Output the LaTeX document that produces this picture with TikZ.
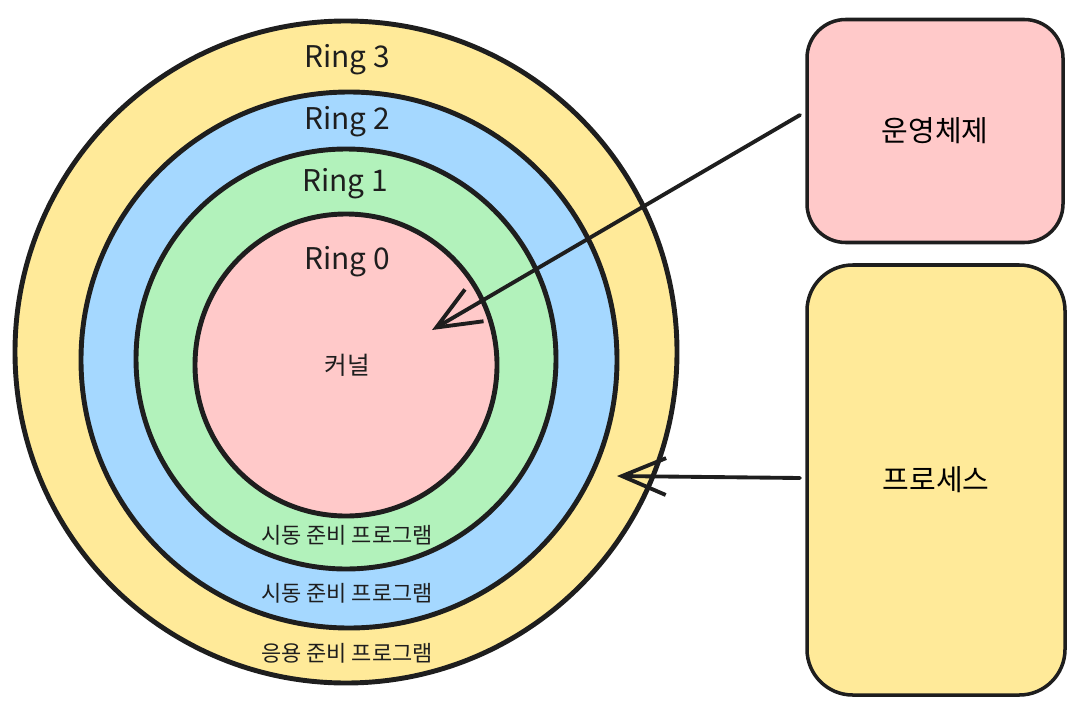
\documentclass[tikz,border=0pt]{standalone}
\usepackage{fontspec}
\setmainfont{Noto Sans CJK KR}
\usetikzlibrary{arrows.meta}
\definecolor{inkc}{HTML}{1E1E1E}
\definecolor{yellowc}{HTML}{FFEA99}
\definecolor{bluec}{HTML}{A5D8FF}
\definecolor{greenc}{HTML}{B2F2BB}
\definecolor{pinkc}{HTML}{FFC9C9}
\tikzset{
x=0.02cm,
y=-0.02cm,
ring/.style={circle, draw=inkc, line width=2.8pt, inner sep=0pt},
box/.style={draw=inkc, line width=2pt, rounded corners=22pt, inner sep=0pt, font=\fontsize{16.5}{18}\selectfont},
ringlabel/.style={text=inkc, font=\fontsize{17}{19}\selectfont},
sublabel/.style={text=inkc, font=\fontsize{12.5}{14}\selectfont},
arrow/.style={draw=inkc, line width=2.2pt, line cap=round, -{Straight Barb[length=25pt,width=21pt,line width=2.2pt]}},
}

\begin{document}
\begin{tikzpicture}
        \useasboundingbox (0,0) rectangle (1084,713);

        % rings
        \node[ring, fill=yellowc, minimum size=662*0.02cm] (ring3) at (346,352) {};
        \node[ring, fill=bluec, minimum size=536*0.02cm] (ring2) at (349,360) {};
        \node[ring, fill=greenc, minimum size=420*0.02cm] (ring1) at (346,359) {};
        \node[ring, fill=pinkc, minimum size=302*0.02cm] (ring0) at (346,365) {};

        \node[ringlabel] (l3) at (347,60) {Ring 3};
        \node[ringlabel] (l2) at (347,122) {Ring 2};
        \node[ringlabel] (l1) at (345,184) {Ring 1};
        \node[ringlabel] (l0) at (347,262) {Ring 0};
        \node[text=inkc, font=\fontsize{14}{16}\selectfont] (kernel) at (347,365) {커널};

        \node[sublabel] (s1) at (347,535) {시동 준비 프로그램};
        \node[sublabel] (s2) at (347,593) {시동 준비 프로그램};
        \node[sublabel] (s3) at (347,653) {응용 준비 프로그램};

        % boxes
        \node[box, fill=pinkc, minimum width=256*0.02cm, minimum height=223*0.02cm] (os) at (935,131) {운영체제};
        \node[box, fill=yellowc, minimum width=258*0.02cm, minimum height=430*0.02cm, rounded corners=26pt] (proc) at (936,480) {프로세스};

        % arrows
        \coordinate (osout) at (800,115);
        \coordinate (kin) at (432,330);
        \coordinate (procout) at (800,478);
        \coordinate (userin) at (617,476);
        \draw[arrow] (osout) -- (kin);
        \draw[arrow] (procout) -- (userin);
\end{tikzpicture}
\end{document}
